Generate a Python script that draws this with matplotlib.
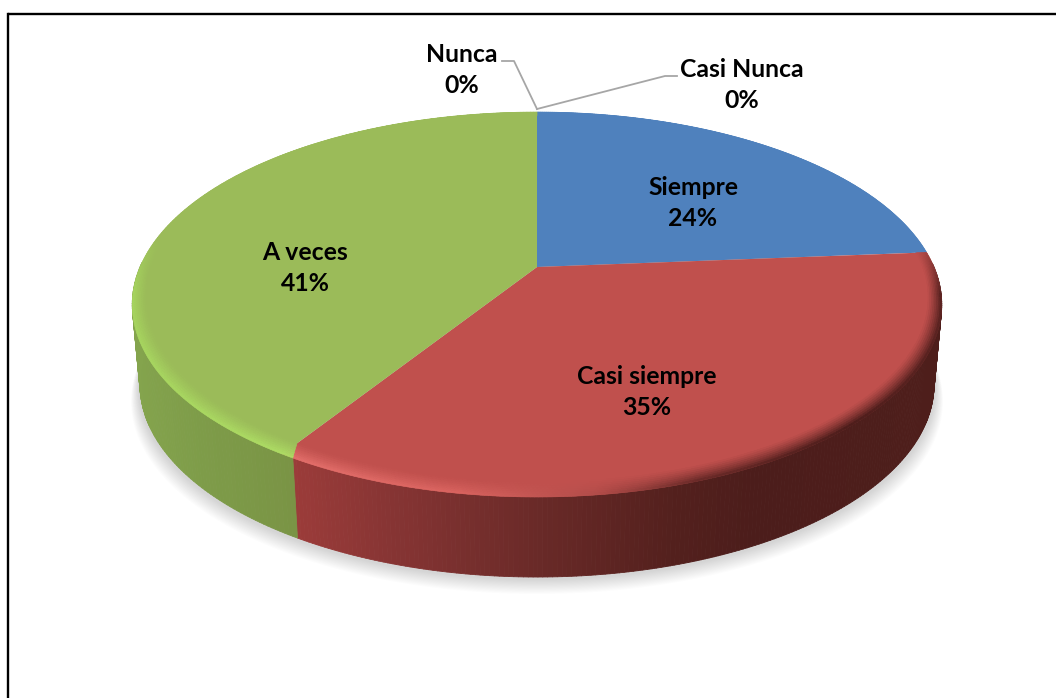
"""
3D style pie chart, drawn by hand with a perspective map of the unit circle
"""

import numpy as np
import matplotlib
matplotlib.use("Agg")
import matplotlib.pyplot as plt
from matplotlib.collections import PolyCollection
from matplotlib.colors import to_rgb

categories = ["Siempre", "Casi siempre", "A veces", "Nunca", "Casi Nunca"]
values = [23.7, 34.8, 41.4, 0, 0]
percent_labels = ["24%", "35%", "41%", "0%", "0%"]
top_colors = ["#4f81bd", "#c0504d", "#9bbb59"]

# perspective of the disc, in pixels
cx, cy = 537.0, 267.0
persp = 0.1948
kx, ky = 397.0, -133.2
depth = 80.0


def project(r, theta):
    # theta runs clockwise from the top of the pie
    x = r * np.sin(theta)
    y = r * np.cos(theta)
    w = 1 + persp * y
    return cx + kx * x / w, (ky * y + cy) / w


def lerp_color(stops, x):
    xs = [s[0] for s in stops]
    rgb = np.array([to_rgb(s[1]) for s in stops])
    return np.array([np.interp(x, xs, rgb[:, i]) for i in range(3)]).T


# side wall colours by pixel x
side_stops = {
    1: [(292, "#9c3c3a"), (400, "#853433"), (537, "#6a2a28"), (680, "#53201d"), (760, "#4c1d1b"), (942, "#4e1e1b")],
    2: [(132, "#84a44d"), (200, "#7e9c49"), (292, "#7a9445")],
}
# colour at the outer edge of the bevel by pixel x
rim_stops = {
    0: [(537, "#4f81bd"), (942, "#4f81bd")],
    1: [(292, "#e26e6a"), (460, "#d9635f"), (600, "#b24c49"), (700, "#6a2a28"), (850, "#4c1d1b"), (942, "#5a2321")],
    2: [(132, "#a6d45f"), (292, "#addb64")],
}

fig = plt.figure(figsize=(10.56, 6.98), dpi=100)
ax = fig.add_axes([0, 0, 1, 1])
ax.set_xlim(0, 1056)
ax.set_ylim(698, 0)
ax.axis("off")

# frame
ax.plot([7.8, 7.8], [698, 14.4], color="#000000", lw=1.7, solid_capstyle="projecting")
ax.plot([7.8, 1056], [14.4, 14.4], color="#000000", lw=1.7, solid_capstyle="butt")

# soft shadow under the pie
ring = np.linspace(0, 2 * np.pi, 361)
for grow in np.linspace(1.0, 0.0, 14):
    sx, sy = project(1, ring)
    ax.fill(cx + (sx - cx) * (0.985 + 0.018 * grow), sy + depth + 3 + 14 * grow,
            color="#000000", alpha=0.012, lw=0, zorder=1)

edges = np.cumsum([0] + values) / sum(values) * 2 * np.pi

# side wall
for i in (1, 2):
    th = np.linspace(edges[i], edges[i + 1], 220)
    th = th[np.cos(th) < 0.03]
    x0, y0 = project(1, th)
    polys, cols = [], []
    for a in range(len(th) - 1):
        xb0 = cx + (x0[a] - cx) * 0.981
        xb1 = cx + (x0[a + 1] - cx) * 0.981
        polys.append([(x0[a], y0[a]), (x0[a + 1], y0[a + 1]),
                      (xb1, y0[a + 1] + depth), (xb0, y0[a] + depth)])
        cols.append(lerp_color(side_stops[i], x0[a]))
    ax.add_collection(PolyCollection(polys, facecolors=cols, edgecolors=cols, lw=0.6, zorder=2))

# the red/green seam bends a little across the bevel
seam_shift = np.radians([0, 0, 1.6, 0])

# top face and bevel
for i in range(3):
    n = 260
    start, end = edges[i], edges[i + 1]
    th = np.linspace(start + seam_shift[i], end + seam_shift[i + 1], n)
    px, py = project(1, th)
    ax.fill(np.r_[cx, px], np.r_[cy, py], color=top_colors[i], lw=0, zorder=3)

    base = np.array(to_rgb(top_colors[i]))
    polys, cols = [], []
    n_bands = 8
    for b in range(n_bands):
        t0, t1 = b / n_bands, (b + 1) / n_bands
        th0 = np.linspace(start + seam_shift[i] * (1 - t0), end + seam_shift[i + 1] * (1 - t0), n)
        th1 = np.linspace(start + seam_shift[i] * (1 - t1), end + seam_shift[i + 1] * (1 - t1), n)
        # band is about the same pixel width at the left and at the front
        w0 = 0.028 + 0.025 * np.clip(-np.cos(th0), 0, 1)
        w1 = 0.028 + 0.025 * np.clip(-np.cos(th1), 0, 1)
        xi, yi = project(1 - w0 * (1 - t0), th0)
        xo, yo = project(1 - w1 * (1 - t1), th1)
        frac = t1 ** 1.3
        for a in range(n - 1):
            # bevel only shows on the front half
            front = np.clip((0.16 - np.cos(th1[a])) / 0.3, 0, 1)
            rim = lerp_color(rim_stops[i], xo[a])
            col = base + (rim - base) * frac * front
            polys.append([(xi[a], yi[a]), (xi[a + 1], yi[a + 1]), (xo[a + 1], yo[a + 1]), (xo[a], yo[a])])
            cols.append(col)
    ax.add_collection(PolyCollection(polys, facecolors=cols, edgecolors=cols, lw=0.4, zorder=4))

# leader lines for the empty slices
ax.plot([502, 514, 537], [61, 61, 109], color="#a6a6a6", lw=1.3, zorder=5)
ax.plot([677, 665, 537], [76, 76, 109], color="#a6a6a6", lw=1.3, zorder=5)

# labels
label_xy = [(693, 203), (647, 392), (305, 268), (462, 70), (742, 85)]
for name, pct, (lx, ly) in zip(categories, percent_labels, label_xy):
    ax.text(lx, ly, name + "\n" + pct, ha="center", va="center", fontsize=17.8,
            family="Lato", weight="bold", color="#000000", linespacing=1.47, zorder=6)

fig.savefig("out.png", dpi=100)
